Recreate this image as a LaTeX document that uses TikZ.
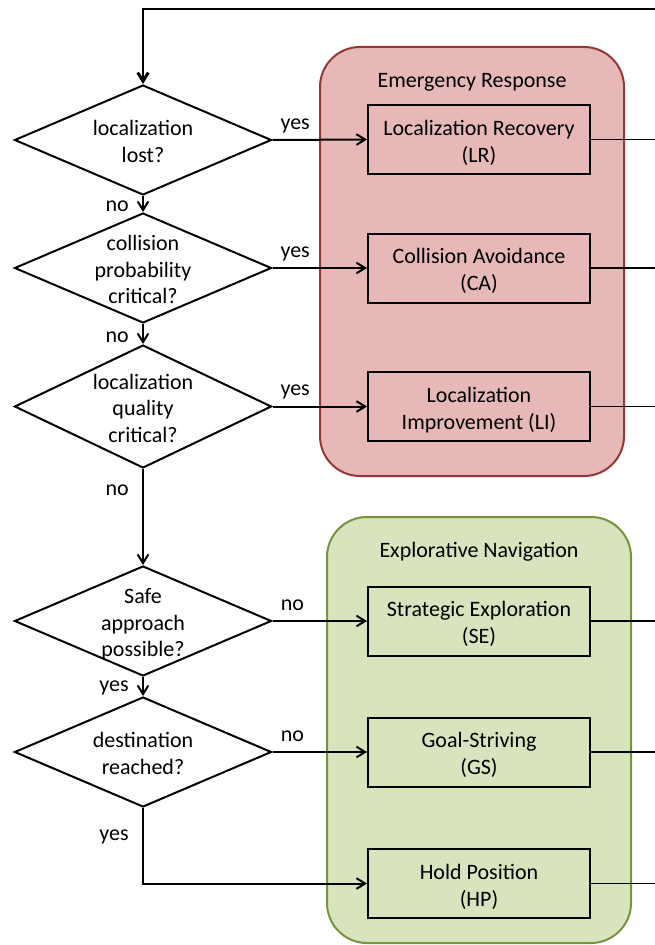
\documentclass[tikz,border=0pt]{standalone}
\usepackage{fontspec}
\setmainfont{Carlito}
\usetikzlibrary{shapes.geometric, arrows.meta}

\definecolor{emfill}{HTML}{E6B9B8}
\definecolor{emdraw}{HTML}{953735}
\definecolor{exfill}{HTML}{D7E4BD}
\definecolor{exdraw}{HTML}{77933C}

% text of a node, kept out of the node's size
\newcommand{\qtext}[1]{\smash{\raisebox{-7.2pt}{\begin{tabular}{@{}c@{}}#1\end{tabular}}}}

\begin{document}
\begin{tikzpicture}[x=0.75pt, y=-0.75pt, >={Straight Barb[length=6.5pt, width=8pt]},
    every node/.style={font=\fontsize{16.5}{20}\selectfont},
    decision/.style={draw, diamond, line width=1.5pt, inner sep=0pt,
        minimum width=192.75pt, minimum height=82.5pt},
    action/.style={draw, rectangle, line width=1.5pt, inner sep=0pt,
        minimum width=166.5pt, minimum height=51.75pt},
    group/.style={rounded corners=30pt, line width=1.5pt},
    flow/.style={->, line width=1.5pt},
    exit/.style={line width=1.4pt},
    backline/.style={->, line width=2.2pt},
    tag/.style={anchor=base, yshift=8pt, inner sep=0pt},
    sidetag/.style={left=10pt, inner sep=0pt}]
    \useasboundingbox (0,0) rectangle (655,945);

    % 1. Hai nhóm hành vi
    \draw[group, fill=emfill, draw=emdraw] (320,47) rectangle (624,476);
    \node (emtitle) at (472,82) {Emergency Response};
    \draw[group, fill=exfill, draw=exdraw] (327,517) rectangle (631,943);
    \node (extitle) at (479,552) {Explorative Navigation};

    % 2. Các câu hỏi
    \node[decision] (lost) at (143,140) {\qtext{localization\\lost?}};
    \node[decision] (coll) at (143,268) {\qtext{collision\\probability\\critical?}};
    \node[decision, minimum height=92.25pt] (qual) at (143,406.5) {\qtext{localization\\quality\\critical?}};
    \node[decision] (safe) at (143,621) {\qtext{Safe\\approach\\possible?}};
    \node[decision] (dest) at (143,752) {\qtext{destination\\reached?}};

    % 3. Các hành vi
    \node[action] (lr) at (479,139.5) {\qtext{Localization Recovery\\(LR)}};
    \node[action] (ca) at (479,268) {\qtext{Collision Avoidance\\(CA)}};
    \node[action] (li) at (479,406.5) {\qtext{Localization\\Improvement (LI)}};
    \node[action] (se) at (479,621) {\qtext{Strategic Exploration\\(SE)}};
    \node[action] (gs) at (479,752) {\qtext{Goal-Striving\\(GS)}};
    \node[action] (hp) at (479,883.5) {\qtext{Hold Position\\(HP)}};

    % 4. Mũi tên
    \draw[flow] (lost) -- (coll) node[sidetag, pos=0.65] {no};
    \draw[flow] (coll) -- (qual) node[sidetag, pos=0.65] {no};
    \draw[flow] (qual) -- (safe) node[sidetag, pos=0.22] {no};
    \draw[flow] (safe) -- (dest) node[sidetag, pos=0.55] {yes};
    \draw[flow] (dest.south) |- (hp.west) node[sidetag, pos=0.19] {yes};

    \draw[flow] (lost.east) -- (lr.west) node[tag, pos=0.24] {yes};
    \draw[flow] (coll.east) -- (ca.west) node[tag, pos=0.24] {yes};
    \draw[flow] (qual.east) -- (li.west) node[tag, pos=0.24] {yes};
    \draw[flow] (safe.east) -- (se.west) node[tag, pos=0.21] {no};
    \draw[flow] (dest.east) -- (gs.west) node[tag, pos=0.21] {no};

    % 5. Đường quay lại
    \coordinate (edge) at (655,9);
    \foreach \b in {lr, ca, li, se, gs, hp}
        \draw[exit] (\b.east) -- (\b.east -| edge);
    \draw[backline] (edge) -| (lost.north);
\end{tikzpicture}
\end{document}
